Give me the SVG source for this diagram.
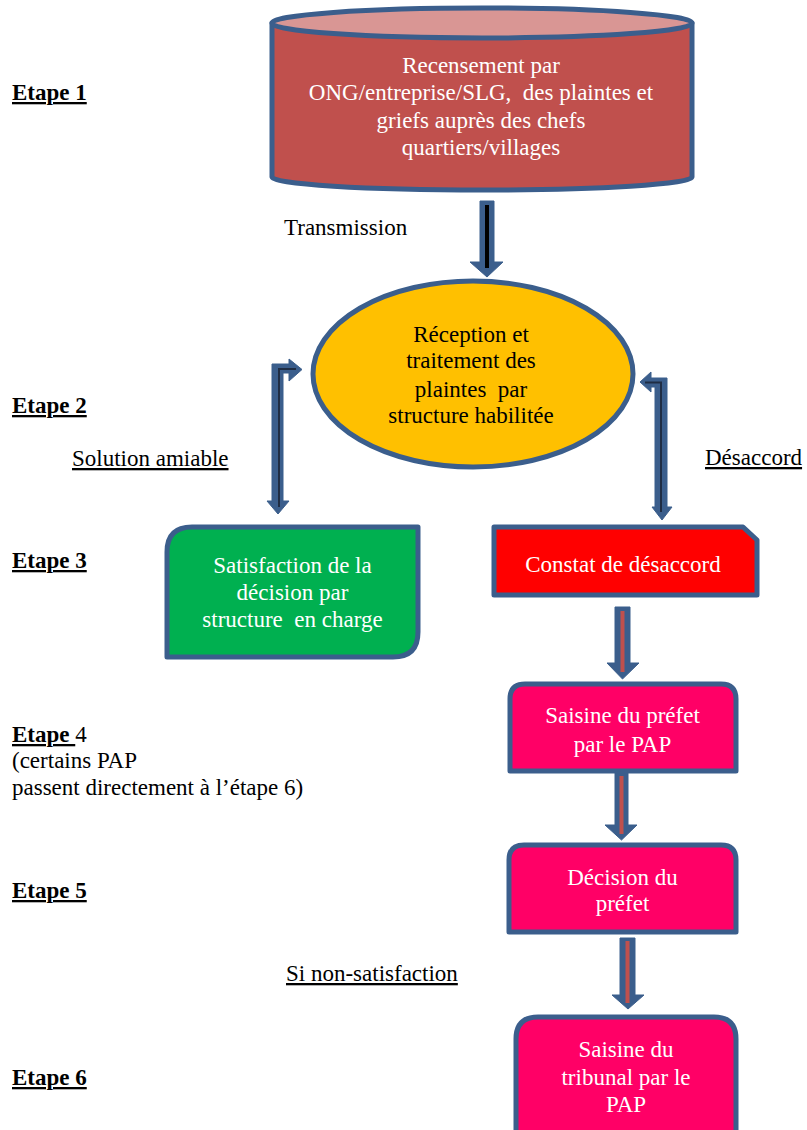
<svg xmlns="http://www.w3.org/2000/svg" width="807" height="1130" viewBox="0 0 807 1130">
<style>
text{font-family:"Liberation Serif","Times New Roman",serif;font-size:23px}
.lbl{fill:#000}
.step{font-weight:bold;text-decoration:underline}
.u{text-decoration:underline}
.w{fill:#fff;text-anchor:middle}
.b{fill:#000;text-anchor:middle}
.node{stroke:#3B5E8C;stroke-width:5;stroke-linejoin:round}
.arr{fill:#3B5E8C;stroke:#3B5E8C;stroke-width:1;stroke-linejoin:miter}
</style>
<rect width="807" height="1130" fill="#fff"/>
<g id="labels">
<text class="lbl step" x="12" y="100">Etape 1</text>
<text class="lbl step" x="12" y="413">Etape 2</text>
<text class="lbl step" x="12" y="568">Etape 3</text>
<text class="lbl" x="12" y="742"><tspan class="step">Etape </tspan>4</text>
<text class="lbl" x="12" y="768">(certains PAP</text>
<text class="lbl" x="12" y="795">passent directement à l’étape 6)</text>
<text class="lbl step" x="12" y="898">Etape 5</text>
<text class="lbl step" x="12" y="1085">Etape 6</text>
<text class="lbl" x="284" y="235">Transmission</text>
<text class="lbl u" x="72" y="466">Solution amiable</text>
<text class="lbl u" x="705" y="465">Désaccord</text>
<text class="lbl u" x="286" y="981">Si non-satisfaction</text>
</g>
<g id="connectors">
<polygon class="arr" points="480,201 494,201 494,262 503,262 487,277 470,262 480,262"/>
<line x1="487" y1="205" x2="487" y2="268" stroke="#000" stroke-width="4"/>
<polygon class="arr" points="272,364 289,364 289,359 302,369.5 289,381 289,373 283,373 283,501 289,501 278,514 267,501 272,501"/>
<polyline points="279,507 279,369 296,369" fill="none" stroke="#1F2D44" stroke-width="2"/>
<polygon class="arr" points="667,378 667,507 672,507 662,520 652,507 655,507 655,387 651,387 651,392 640,382 651,372 651,378"/>
<polyline points="645,382.5 661,382.5 661,512" fill="none" stroke="#1F2D44" stroke-width="2"/>
<polygon class="arr" points="615,607 630,607 630,663 639,663 622.5,679 607,663 615,663"/>
<line x1="622.5" y1="611" x2="622.5" y2="672" stroke="#C0504D" stroke-width="4"/>
<polygon class="arr" points="615,773 628,773 628,825 637,825 621.5,840 605,825 615,825"/>
<line x1="621.5" y1="776" x2="621.5" y2="834" stroke="#C0504D" stroke-width="4"/>
<polygon class="arr" points="620,938 635,938 635,995 644,995 628,1009 612,995 620,995"/>
<line x1="627.5" y1="941" x2="627.5" y2="1003" stroke="#C0504D" stroke-width="4"/>
</g>
<g id="n1">
<path class="node" d="M272,23 L272,177 A210,13 0 0 0 692,177 L692,23 Z" fill="#C0504D"/>
<ellipse class="node" cx="482" cy="23" rx="210" ry="15" fill="#D99694"/>
<text class="w" x="481" y="73">Recensement par</text>
<text class="w" x="481" y="100" xml:space="preserve">ONG/entreprise/SLG,  des plaintes et</text>
<text class="w" x="481" y="128">griefs auprès des chefs</text>
<text class="w" x="481" y="155">quartiers/villages</text>
</g>
<g id="n2">
<ellipse class="node" cx="473" cy="374" rx="160" ry="93" fill="#FFC000"/>
<text class="b" x="471" y="342">Réception et</text>
<text class="b" x="471" y="368">traitement des</text>
<text class="b" x="471" y="397" xml:space="preserve">plaintes  par</text>
<text class="b" x="471" y="423">structure habilitée</text>
</g>
<g id="n3">
<path class="node" d="M192,527 L418,527 L418,632 Q418,657 393,657 L167,657 L167,552 Q167,527 192,527 Z" fill="#00B050"/>
<text class="w" x="292.5" y="573">Satisfaction de la</text>
<text class="w" x="292.5" y="600">décision par</text>
<text class="w" x="292.5" y="627" xml:space="preserve">structure  en charge</text>
</g>
<g id="n4">
<path class="node" d="M494,527 L743,527 L757,540 L757,595 L494,595 Z" fill="#FF0000"/>
<text class="w" x="623" y="572">Constat de désaccord</text>
</g>
<g id="n5">
<path class="node" d="M525,684 L721,684 Q736,684 736,699 L736,771 L510,771 L510,699 Q510,684 525,684 Z" fill="#FF0066"/>
<text class="w" x="622.5" y="723">Saisine du préfet</text>
<text class="w" x="622.5" y="752">par le PAP</text>
</g>
<g id="n6">
<path class="node" d="M524,845 L721,845 Q736,845 736,860 L736,932 L509,932 L509,860 Q509,845 524,845 Z" fill="#FF0066"/>
<text class="w" x="622.5" y="885">Décision du</text>
<text class="w" x="622.5" y="911">préfet</text>
</g>
<g id="n7">
<path class="node" d="M538,1017 L714,1017 Q736,1017 736,1039 L736,1140 L516,1140 L516,1039 Q516,1017 538,1017 Z" fill="#FF0066"/>
<text class="w" x="626" y="1057">Saisine du</text>
<text class="w" x="626" y="1085">tribunal par le</text>
<text class="w" x="626" y="1112">PAP</text>
</g>
</svg>
